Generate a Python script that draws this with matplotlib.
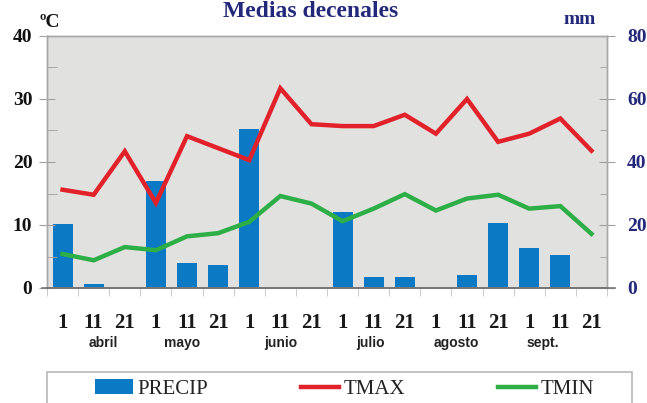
import matplotlib
matplotlib.use("Agg")
import matplotlib.pyplot as plt
import matplotlib.transforms as mtransforms
from matplotlib.patches import Rectangle
import numpy as np

# ---------------- data ----------------
day_labels = ["1", "11", "21"] * 6
months = ["abril", "mayo", "junio", "julio", "agosto", "sept."]
precip = [20.4, 1.3, 0.0, 34.0, 7.9, 7.2, 50.5, 0.0, 0.0, 24.2, 3.4, 3.4,
          0.0, 4.1, 20.5, 12.7, 10.4, 0.3]
tmax = [15.6, 14.8, 21.7, 13.5, 24.1, 22.2, 20.3, 31.7, 26.0, 25.7, 25.7, 27.5,
        24.5, 30.0, 23.2, 24.5, 26.9, 21.8]
tmin = [5.4, 4.4, 6.5, 6.0, 8.2, 8.7, 10.5, 14.6, 13.4, 10.6, 12.6, 14.9,
        12.3, 14.2, 14.8, 12.6, 13.0, 8.6]
temp_ticks = [0, 10, 20, 30, 40]
mm_ticks = [0, 20, 40, 60, 80]
title = "Medias decenales"

# ---------------- style ----------------
NAVY = "#23287a"
BLUE = "#0b79c3"
RED = "#e2222b"
GREEN = "#2eae47"
BG = "#e1e1df"
SERIF = "Liberation Serif"
SANS = "Liberation Sans"

W, H = 647, 403
fig = plt.figure(figsize=(W / 100, H / 100), dpi=100)
fig.patch.set_facecolor("white")

left, right, top, bottom = 47, 607, 36, 288
ax_p = fig.add_axes([left / W, 1 - bottom / H, (right - left) / W, (bottom - top) / H])
ax_p.set_facecolor(BG)
ax_t = ax_p.twinx()
ax_t.set_facecolor("none")

x = np.arange(len(precip))

# precipitation bars (right axis)
bars = ax_p.bar(x, precip, width=0.64, color=BLUE, zorder=2, label="PRECIP")
ax_p.set_ylim(0, 80)
ax_p.set_xlim(-0.5, len(precip) - 0.5)
ax_p.yaxis.tick_right()
ax_p.set_yticks(mm_ticks)
ax_p.set_yticks([10, 30, 50, 70], minor=True)
ax_p.set_yticklabels([str(v) for v in mm_ticks], fontfamily=SERIF,
                     fontweight="bold", fontsize=14, color=NAVY)
ax_p.tick_params(axis="y", which="major", direction="inout", length=11,
                 color="#a0a0a0", pad=9, right=True, left=False)
ax_p.tick_params(axis="y", which="minor", direction="in", length=5,
                 color="#a0a0a0", right=True, left=False)

# temperature lines (left axis)
l_max, = ax_t.plot(x, tmax, color=RED, lw=3.2, solid_joinstyle="miter", label="TMAX", zorder=3)
l_min, = ax_t.plot(x, tmin, color=GREEN, lw=3.2, solid_joinstyle="miter", label="TMIN", zorder=3)
ax_t.set_ylim(0, 40)
ax_t.yaxis.tick_left()
ax_t.set_yticks(temp_ticks)
ax_t.set_yticks([5, 15, 25, 35], minor=True)
ax_t.set_yticklabels([str(v) for v in temp_ticks], fontfamily=SERIF,
                     fontweight="bold", fontsize=14, color="#111111")
ax_t.tick_params(axis="y", which="major", direction="inout", length=11,
                 color="#a0a0a0", pad=5, left=True, right=False)
ax_t.tick_params(axis="y", which="minor", direction="in", length=7,
                 color="#a0a0a0", left=True, right=False)

# x axis
ax_p.set_xticks(x)
ax_p.set_xticklabels(day_labels, fontfamily=SERIF, fontweight="bold",
                     fontsize=15, color="#1a1a1a")
ax_p.set_xticks(np.arange(-0.5, len(precip) + 0.5, 1), minor=True)
ax_p.tick_params(axis="x", which="major", length=0, pad=18)
ax_p.tick_params(axis="x", which="minor", direction="out", length=6,
                 color="#c4c4c4")
ax_t.tick_params(axis="x", which="both", length=0)

# month labels
month_pos = [1.3, 3.85, 7.0, 9.9, 12.65, 15.45]
trans = mtransforms.blended_transform_factory(ax_p.transData, fig.transFigure)
for m, p in zip(months, month_pos):
    ax_p.text(p, 1 - 343 / H, m, transform=trans, ha="center", va="center",
              fontfamily=SANS, fontweight="bold", fontsize=10, color="#222222")

# spines
for ax in (ax_p, ax_t):
    for s in ("top", "left", "right"):
        ax.spines[s].set_color("#a8a8a8")
        ax.spines[s].set_linewidth(1.0)
    ax.spines["bottom"].set_color("#777777")
    ax.spines["bottom"].set_linewidth(1.2)

# zero line extending beyond the axes
fig.add_artist(plt.Line2D([42 / W, 615 / W], [1 - bottom / H] * 2,
                          transform=fig.transFigure, color="#777777", lw=1.2))

# titles / units
fig.text(311 / W, 1 - 17 / H, title, ha="center", va="baseline",
         fontfamily=SERIF, fontweight="bold", fontsize=17, color=NAVY)
fig.text(40 / W, 1 - 27 / H, "ºC", ha="left", va="baseline",
         fontfamily=SERIF, fontweight="bold", fontsize=14, color="#111111")
fig.text(580 / W, 1 - 24 / H, "mm", ha="center", va="baseline",
         fontfamily=SERIF, fontweight="bold", fontsize=14, color=NAVY)

# legend frame (cut at figure bottom)
fig.add_artist(Rectangle((47 / W, -0.05), (632 - 47) / W, (403 - 372) / H + 0.05,
                         transform=fig.transFigure, facecolor="white",
                         edgecolor="#b8b8b8", lw=1.2))
leg = fig.legend([bars, l_max, l_min], ["PRECIP", "TMAX", "TMIN"],
                 loc="center left", bbox_to_anchor=(95 / W, 1 - 389 / H),
                 ncol=3, frameon=False, borderpad=0, borderaxespad=0,
                 handlelength=1.8, handletextpad=0.25, columnspacing=4.45,
                 prop={"family": SERIF, "size": 15})
for t in leg.get_texts():
    t.set_color("#222222")

fig.savefig("out.png", dpi=100)
